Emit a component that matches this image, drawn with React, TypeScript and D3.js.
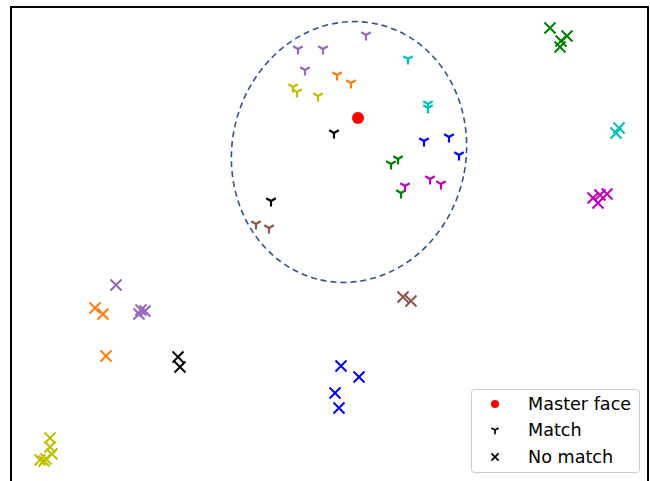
import React from "react";
import * as d3 from "d3";

// Identity colours
const identityColors: Record<string, string> = {
  purple: "#9467bd",
  orange: "#ff7f0e",
  yellow: "#bfbf00",
  cyan: "#00bfbf",
  black: "#000000",
  blue: "#0000ff",
  green: "#008000",
  magenta: "#bf00bf",
  brown: "#8c564b",
};

// Embedding coordinates (arbitrary units, y up)
const matchPoints: [string, number, number][] = [
  ["purple", 288, 451], ["purple", 313, 451], ["purple", 356, 465], ["purple", 295, 430],
  ["orange", 327, 425], ["orange", 341, 417],
  ["yellow", 283, 413], ["yellow", 287, 408], ["yellow", 308, 404],
  ["cyan", 398, 441], ["cyan", 418, 396], ["cyan", 418, 392],
  ["black", 324, 367], ["black", 261, 299],
  ["blue", 414, 359], ["blue", 439, 363], ["blue", 449, 345],
  ["green", 381, 336], ["green", 388, 341], ["green", 391, 307],
  ["magenta", 395, 314], ["magenta", 420, 321], ["magenta", 431, 316],
  ["brown", 246, 276], ["brown", 259, 272],
];

const noMatchPoints: [string, number, number][] = [
  ["green", 540, 472], ["green", 557, 464], ["green", 551, 459], ["green", 550, 453],
  ["cyan", 609, 372], ["cyan", 606, 367],
  ["magenta", 583, 302], ["magenta", 590, 305], ["magenta", 597, 306], ["magenta", 588, 297],
  ["brown", 393, 203], ["brown", 401, 199],
  ["purple", 106, 215], ["purple", 131, 190], ["purple", 135, 189], ["purple", 129, 186],
  ["orange", 85, 192], ["orange", 93, 186], ["orange", 96, 144],
  ["black", 168, 143], ["black", 170, 133],
  ["blue", 331, 134], ["blue", 349, 123], ["blue", 325, 107], ["blue", 329, 92],
  ["yellow", 40, 62], ["yellow", 40, 53], ["yellow", 42, 46], ["yellow", 30, 40], ["yellow", 36, 41], ["yellow", 34, 39],
];

const masterFace: [number, number] = [348, 382];
const thresholdEllipse = { cx: 339, cy: 348, rx: 117, ry: 131, angle: 12 };

const legendLabels = ["Master face", "Match", "No match"];

const W = 650;
const H = 481;

const x = d3.scaleLinear().domain([0, 638]).range([10, 648]);
const y = d3.scaleLinear().domain([0, 494]).range([500, 6]);

const triDown = (r: number) =>
  `M0,0L0,${r}M0,0L${-0.866 * r},${-0.5 * r}M0,0L${0.866 * r},${-0.5 * r}`;
const cross = (s: number) => `M${-s},${-s}L${s},${s}M${-s},${s}L${s},${-s}`;

export default function App() {
  const ecx = x(thresholdEllipse.cx);
  const ecy = y(thresholdEllipse.cy);
  const erx = x(thresholdEllipse.rx) - x(0);
  const ery = y(0) - y(thresholdEllipse.ry);
  const legendRows = [404, 430, 457];
  return (
    <svg
      width={W}
      height={H}
      style={{ position: "absolute", left: 0, top: 0, display: "block", background: "#fff" }}
      fontFamily="DejaVu Sans"
    >
      <rect x={0} y={0} width={W} height={H} fill="#fff" />
      <ellipse
        cx={ecx}
        cy={ecy}
        rx={erx}
        ry={ery}
        transform={`rotate(${thresholdEllipse.angle} ${ecx} ${ecy})`}
        fill="none"
        stroke="#36528c"
        strokeWidth={1.6}
        strokeDasharray="6,4"
      />
      {matchPoints.map(([c, px, py], i) => (
        <path
          key={"m" + i}
          d={triDown(5.5)}
          transform={`translate(${x(px)},${y(py)})`}
          fill="none"
          stroke={identityColors[c]}
          strokeWidth={2.2}
        />
      ))}
      {noMatchPoints.map(([c, px, py], i) => (
        <path
          key={"n" + i}
          d={cross(5.5)}
          transform={`translate(${x(px)},${y(py)})`}
          fill="none"
          stroke={identityColors[c]}
          strokeWidth={2}
        />
      ))}
      <circle cx={x(masterFace[0])} cy={y(masterFace[1])} r={6} fill="#ff0000" />
      <rect x={11} y={7} width={637} height={520} fill="none" stroke="#000" strokeWidth={2} />
      <g>
        <rect x={471.5} y={389.5} width={168} height={83} rx={3} fill="#fff" fillOpacity={0.8} stroke="#cccccc" strokeWidth={1} />
        <circle cx={495} cy={legendRows[0]} r={4} fill="#ff0000" />
        <path d={triDown(4.2)} transform={`translate(495,${legendRows[1]})`} fill="none" stroke="#000" strokeWidth={1.7} />
        <path d={cross(3.6)} transform={`translate(495,${legendRows[2]})`} fill="none" stroke="#000" strokeWidth={1.7} />
        {legendLabels.map((t, i) => (
          <text key={t} x={528} y={legendRows[i]} dy="0.36em" fontSize={17.6} fill="#000">
            {t}
          </text>
        ))}
      </g>
    </svg>
  );
}
